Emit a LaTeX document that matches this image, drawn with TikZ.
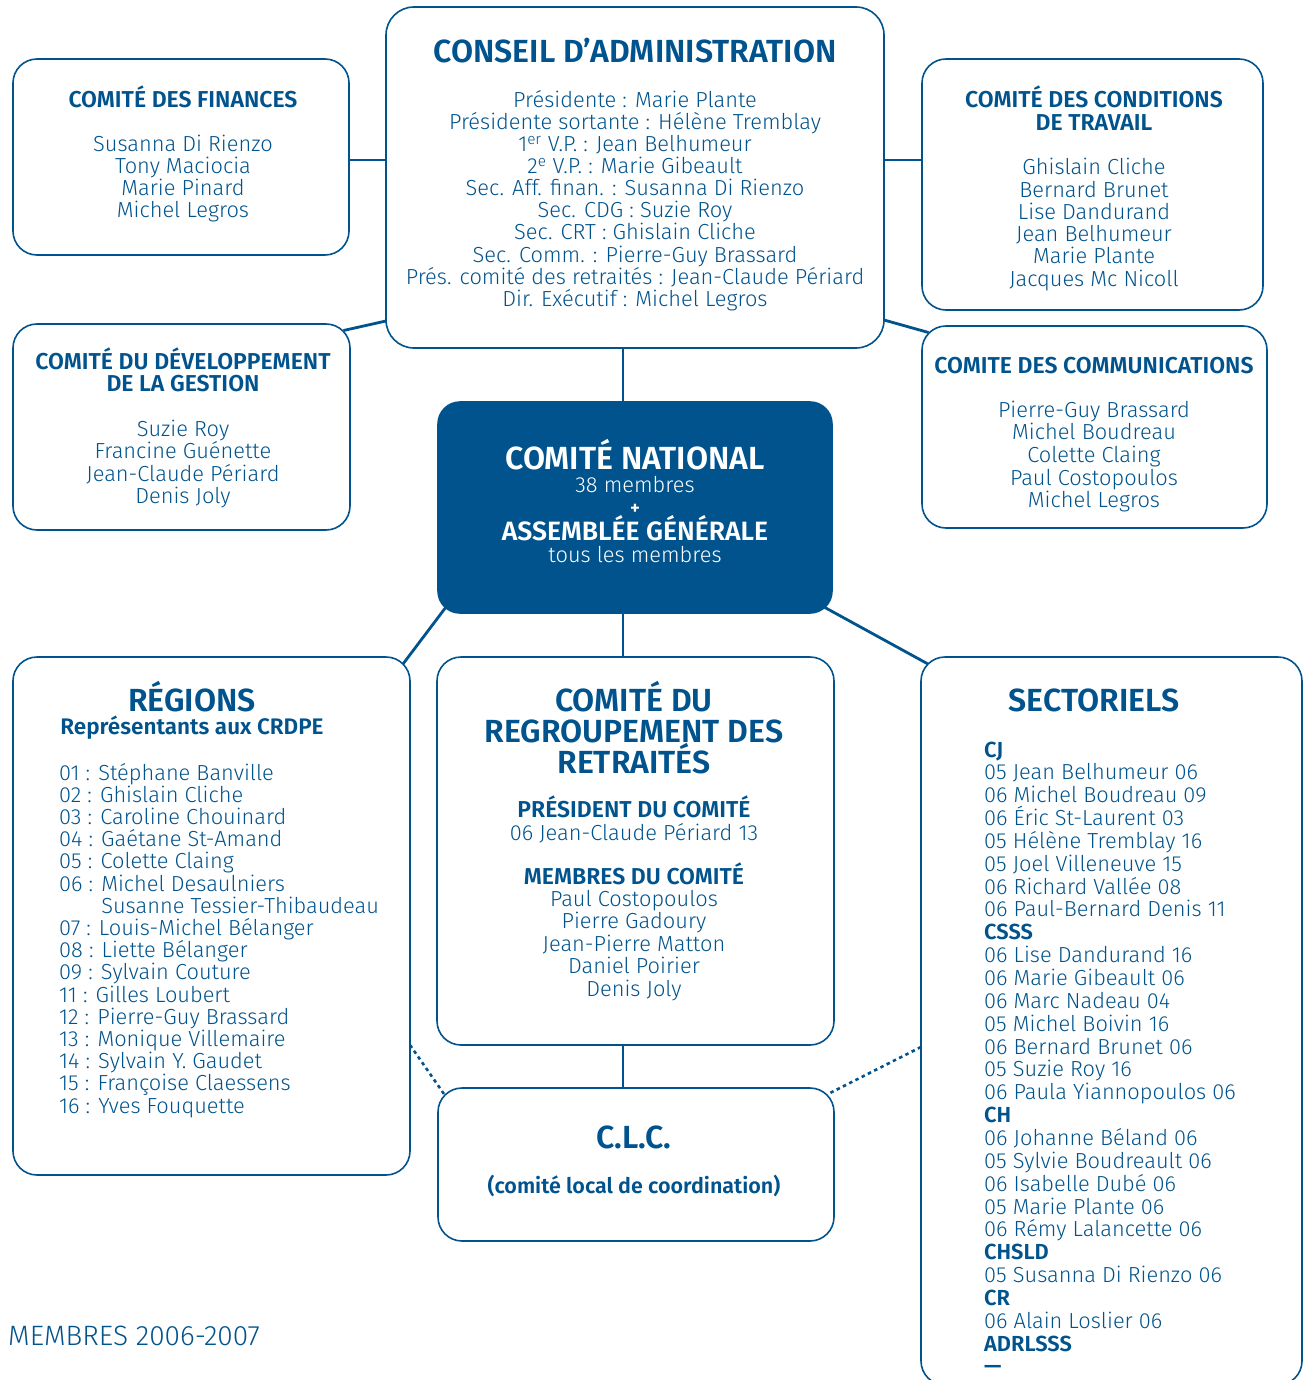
\documentclass[tikz,border=0pt]{standalone}
\usepackage{fontspec}
\IfFontExistsTF{Fira Sans Light}
  {\IfFontExistsTF{Fira Sans SemiBold}
    {\setmainfont{Fira Sans Light}[BoldFont={Fira Sans SemiBold}]}
    {\setmainfont{Fira Sans Light}[BoldFont={Fira Sans Bold}]}}
  {\setmainfont{Fira Sans}}
\usetikzlibrary{positioning, calc}
\definecolor{cblue}{RGB}{0,83,140}

\begin{document}
\begin{tikzpicture}[x=1pt, y=-1pt,
  box/.style={draw=cblue, line width=1.6pt, rounded corners=24pt, inner sep=0, outer sep=0},
  link/.style={draw=cblue, line width=2.8pt},
  dots/.style={draw=cblue, line width=2.6pt, dash pattern=on 3.5pt off 3.5pt},
  txt/.style={text=cblue, font=\fontsize{21.8}{22}\selectfont, inner sep=0, anchor=base},
  lst/.style={txt, anchor=base west},
  head/.style={txt, font=\fontsize{23}{22}\selectfont\bfseries},
  big/.style={txt, font=\fontsize{32}{31}\selectfont\bfseries},
  ]

  \clip (0,0) rectangle (1304,1380);

  % Boxes
  \node[box, minimum width=498pt, minimum height=341pt, rounded corners=28pt] (ca) at (635,177.5) {};
  \node[box, minimum width=336pt, minimum height=196pt] (fin) at (181,157) {};
  \node[box, minimum width=341pt, minimum height=251pt] (cond) at (1092.5,184.5) {};
  \node[box, minimum width=337pt, minimum height=206pt] (dev) at (181.5,427) {};
  \node[box, minimum width=345pt, minimum height=202pt] (comm) at (1094.5,427) {};
  \node[box, fill=cblue, minimum width=394pt, minimum height=211pt, rounded corners=22pt] (nat) at (635,507.5) {};
  \node[box, minimum width=397pt, minimum height=518pt] (reg) at (211.5,916) {};
  \node[box, minimum width=397pt, minimum height=388pt] (ret) at (635.5,851) {};
  \node[box, minimum width=396pt, minimum height=153pt] (clc) at (636,1164.5) {};
  \node[box, minimum width=381pt, minimum height=728pt] (sect) at (1111.5,1021) {};

  % Connectors
  \coordinate (cafin) at ($(ca.west)+(0,-17.5)$);
  \coordinate (spine) at ($(ca.south)+(-12,0)$);
  \draw[link] (cafin) -- (cafin -| fin.east);
  \draw[link] (cafin -| ca.east) -- (cafin -| cond.west);
  \draw[link] ($(dev.north east)+(-6.5,6.5)$) -- ($(ca.south west)+(0,-27)$);
  \draw[link] ($(ca.south east)+(0,-28)$) -- ($(comm.north west)+(6.5,6.5)$);
  \draw[link] (spine) -- (spine |- nat.north);
  \draw[link] (spine |- nat.south) -- (spine |- ret.north);
  \draw[link] (spine |- ret.south) -- (spine |- clc.north);
  \draw[link] ($(nat.south west)+(8,-6)$) -- ($(reg.north east)+(-7,7)$);
  \draw[link] ($(nat.south east)+(-8,-6)$) -- ($(sect.north west)+(7,7)$);
  \draw[dots] ($(reg.south east)+(0,-130)$) -- ($(clc.north west)+(6,6)$);
  \draw[dots] ($(sect.west)+(0,26)$) -- ($(clc.north east)+(-6,6)$);

  % Conseil d'administration
  \node[big] (catitle) at (635,63) {CONSEIL D’ADMINISTRATION};
  \foreach \who [count=\n] in {
      Présidente : Marie Plante,
      Présidente sortante : Hélène Tremblay,
      1\textsuperscript{er} V.P. : Jean Belhumeur,
      2\textsuperscript{e} V.P. : Marie Gibeault,
      Sec. Aff. finan. : Susanna Di Rienzo,
      Sec. CDG : Suzie Roy,
      Sec. CRT : Ghislain Cliche,
      Sec. Comm. : Pierre-Guy Brassard,
      Prés. comité des retraités : Jean-Claude Périard,
      Dir. Exécutif : Michel Legros}
    \node[txt] (ca\n) at (635,86+22*\n) {\who};

  % Finances
  \node[head] (fintitle) at (183,108) {COMITÉ DES FINANCES};
  \foreach \who [count=\n] in {Susanna Di Rienzo, Tony Maciocia, Marie Pinard, Michel Legros}
    \node[txt] (fin\n) at (183,130+22*\n) {\who};

  % Conditions de travail
  \node[head] (condtitle) at (1094,108) {COMITÉ DES CONDITIONS};
  \node[head] (condtitleb) at (1094,131) {DE TRAVAIL};
  \foreach \who [count=\n] in {Ghislain Cliche, Bernard Brunet, Lise Dandurand, Jean Belhumeur, Marie Plante, Jacques Mc Nicoll}
    \node[txt] (cond\n) at (1094,152.8+22.2*\n) {\who};

  % Developpement de la gestion
  \node[head] (devtitle) at (183,369) {COMITÉ DU DÉVELOPPEMENT};
  \node[head] (devtitleb) at (183,391) {DE LA GESTION};
  \foreach \who [count=\n] in {Suzie Roy, Francine Guénette, Jean-Claude Périard, Denis Joly}
    \node[txt] (dev\n) at (183,413.5+22.5*\n) {\who};

  % Communications
  \node[head] (commtitle) at (1094,373) {COMITE DES COMMUNICATIONS};
  \foreach \who [count=\n] in {Pierre-Guy Brassard, Michel Boudreau, Colette Claing, Paul Costopoulos, Michel Legros}
    \node[txt] (comm\n) at (1094,394.3+22.7*\n) {\who};

  % Comite national
  \node[big, text=white] (nattitle) at (635,469) {COMITÉ NATIONAL};
  \node[txt, text=white] (natsub) at (635,492) {38 membres};
  \node[head, text=white, font=\fontsize{19}{20}\selectfont\bfseries] (natplus) at (635,514) {+};
  \node[big, text=white, font=\fontsize{26.5}{26}\selectfont\bfseries] (agtitle) at (635,540) {ASSEMBLÉE GÉNÉRALE};
  \node[txt, text=white] (agsub) at (635,562) {tous les membres};

  % Regions
  \node[big] (regtitle) at (192,711) {RÉGIONS};
  \node[head, font=\fontsize{22.5}{22}\selectfont\bfseries] (regsub) at (192,734) {Représentants aux CRDPE};
  \foreach \who [count=\n] in {
      01 : Stéphane Banville,
      02 : Ghislain Cliche,
      03 : Caroline Chouinard,
      04 : Gaétane St-Amand,
      05 : Colette Claing,
      06 : Michel Desaulniers,
      \phantom{06 : }Susanne Tessier-Thibaudeau,
      07 : Louis-Michel Bélanger,
      08 : Liette Bélanger,
      09 : Sylvain Couture,
      11 : Gilles Loubert,
      12 : Pierre-Guy Brassard,
      13 : Monique Villemaire,
      14 : Sylvain Y. Gaudet,
      15 : Françoise Claessens,
      16 : Yves Fouquette}
    \node[lst] (reg\n) at (59,757.8+22.2*\n) {\who};

  % Regroupement des retraites
  \node[big] (rettitle) at (634,711) {COMITÉ DU};
  \node[big] (rettitleb) at (634,742) {REGROUPEMENT DES};
  \node[big] (rettitlec) at (634,773) {RETRAITÉS};
  \node[head] (retpres) at (634,817) {PRÉSIDENT DU COMITÉ};
  \node[txt] (retpresname) at (634,840) {06 Jean-Claude Périard 13};
  \node[head] (retmemb) at (634,884) {MEMBRES DU COMITÉ};
  \foreach \who [count=\n] in {Paul Costopoulos, Pierre Gadoury, Jean-Pierre Matton, Daniel Poirier, Denis Joly}
    \node[txt] (ret\n) at (634,883.5+22.5*\n) {\who};

  % C.L.C.
  \node[big] (clctitle) at (634,1148) {C.L.C.};
  \node[head, font=\fontsize{21.5}{22}\selectfont\bfseries] (clcsub) at (634,1193) {(comité local de coordination)};

  % Sectoriels
  \node[big] (secttitle) at (1094,711) {SECTORIELS};
  \foreach \who [count=\n] in {
      {\bfseries CJ},
      05 Jean Belhumeur 06,
      06 Michel Boudreau 09,
      06 Éric St-Laurent 03,
      05 Hélène Tremblay 16,
      05 Joel Villeneuve 15,
      06 Richard Vallée 08,
      06 Paul-Bernard Denis 11,
      {\bfseries CSSS},
      06 Lise Dandurand 16,
      06 Marie Gibeault 06,
      06 Marc Nadeau 04,
      05 Michel Boivin 16,
      06 Bernard Brunet 06,
      05 Suzie Roy 16,
      06 Paula Yiannopoulos 06,
      {\bfseries CH},
      06 Johanne Béland 06,
      05 Sylvie Boudreault 06,
      06 Isabelle Dubé 06,
      05 Marie Plante 06,
      06 Rémy Lalancette 06,
      {\bfseries CHSLD},
      05 Susanna Di Rienzo 06,
      {\bfseries CR},
      06 Alain Loslier 06,
      {\bfseries ADRLSSS},
      {\bfseries —}}
    \node[lst] (sect\n) at (984,734.15+22.85*\n) {\who};

  \node[lst, font=\fontsize{28}{26}\selectfont] (membres) at (8,1345) {MEMBRES 2006-2007};

\end{tikzpicture}
\end{document}
